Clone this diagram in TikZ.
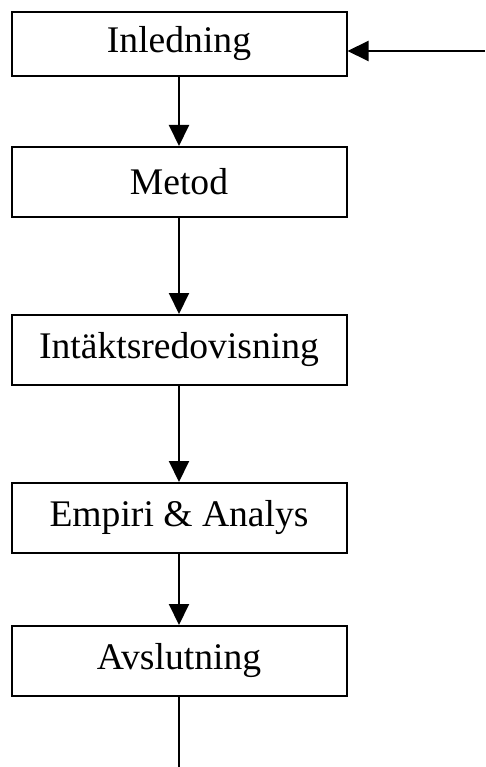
\documentclass[tikz,border=0pt]{standalone}
\usepackage{fontspec}
\setmainfont{Liberation Serif}
\usetikzlibrary{positioning}
\usetikzlibrary{arrows.meta}

\begin{document}
\begin{tikzpicture}[x=1pt,y=-1pt,line width=2pt,
	box/.style={draw,minimum width=335pt,minimum height=70pt,inner sep=0pt,
		font=\fontsize{37.6}{45}\selectfont},
	pil/.style={-{Triangle[length=21pt,width=20pt]}}]
	\useasboundingbox (0,0) rectangle (485,767);
	\node[box,minimum height=64pt] (inl) at (179,44) {Inledning};
	\node[box,below=69pt of inl] (met) {Metod};
	\node[box,below=96pt of met] (int) {Intäktsredovisning};
	\node[box,below=96pt of int] (emp) {Empiri \& Analys};
	\node[box,below=71pt of emp] (avs) {Avslutning};
	\coordinate (in) at (485,51);
	\coordinate (ut) at (179,767);
	\draw[pil] (in) -- (in -| inl.east);
	\draw[pil] (inl) -- (met);
	\draw[pil] (met) -- (int);
	\draw[pil] (int) -- (emp);
	\draw[pil] (emp) -- (avs);
	\draw (avs) -- (ut);
\end{tikzpicture}
\end{document}
